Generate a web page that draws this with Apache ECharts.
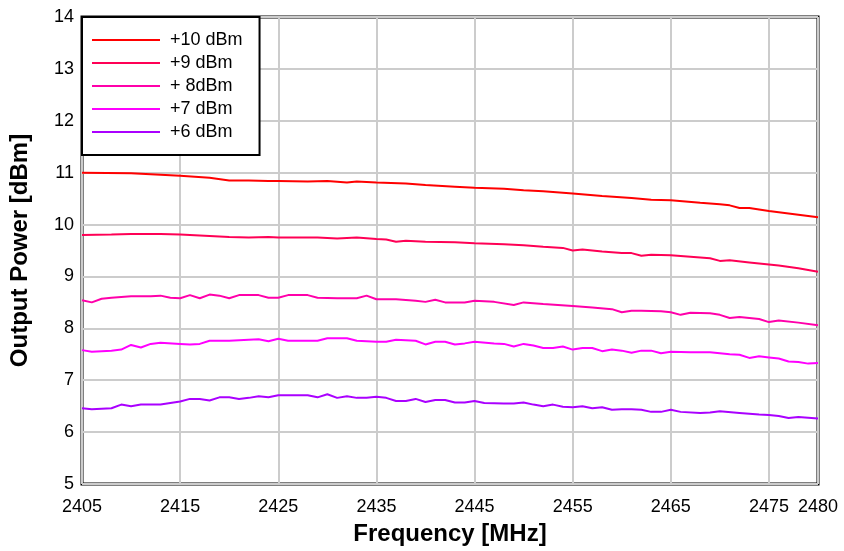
<!DOCTYPE html>
<html>
<head>
<meta charset="utf-8">
<script src="https://cdn.jsdelivr.net/npm/echarts@6/dist/echarts.min.js"></script>
<style>
  html, body { margin: 0; padding: 0; background: #fff; }
  #chart { width: 844px; height: 551px; }
</style>
</head>
<body>
<div id="chart"></div>
<script>
// output power vs frequency, [MHz, dBm]
const legendNames = ['+10 dBm', '+9 dBm', '+ 8dBm', '+7 dBm', '+6 dBm']
const lineColors = ['#ff0000', '#ff0055', '#ff00aa', '#ff00ff', '#aa00ff']

const p10 = [
  [2405, 11.0], [2410, 10.99], [2412, 10.97], [2415, 10.94], [2418, 10.9], [2420, 10.85],
  [2422, 10.85], [2424, 10.84], [2425, 10.84], [2428, 10.83], [2430, 10.84], [2432, 10.81],
  [2433, 10.83], [2435, 10.81], [2438, 10.79], [2440, 10.76], [2443, 10.73], [2445, 10.71],
  [2448, 10.69], [2450, 10.66], [2452, 10.64], [2455, 10.6], [2458, 10.55], [2461, 10.51],
  [2463, 10.48], [2465, 10.47], [2468, 10.42], [2470, 10.39], [2471, 10.37], [2472, 10.32],
  [2473, 10.32], [2475, 10.26], [2478, 10.19], [2480, 10.14]
]
const p9 = [
  [2405, 9.8], [2408, 9.81], [2410, 9.82], [2413, 9.82], [2415, 9.81], [2417, 9.79],
  [2420, 9.76], [2422, 9.75], [2424, 9.76], [2425, 9.75], [2427, 9.75], [2429, 9.75],
  [2431, 9.73], [2433, 9.75], [2435, 9.72], [2436, 9.71], [2437, 9.67], [2438, 9.69],
  [2440, 9.67], [2443, 9.66], [2445, 9.64], [2448, 9.62], [2450, 9.6], [2452, 9.57],
  [2454, 9.55], [2455, 9.5], [2456, 9.52], [2458, 9.48], [2460, 9.45], [2461, 9.45],
  [2462, 9.4], [2463, 9.42], [2465, 9.41], [2467, 9.38], [2469, 9.35], [2470, 9.3],
  [2471, 9.31], [2473, 9.27], [2475, 9.23], [2476, 9.21], [2478, 9.16], [2480, 9.09]
]
const p8 = [
  [2405, 8.54], [2406, 8.5], [2407, 8.57], [2408, 8.59], [2410, 8.62], [2412, 8.62],
  [2413, 8.63], [2414, 8.59], [2415, 8.58], [2416, 8.64], [2417, 8.58], [2418, 8.65],
  [2419, 8.63], [2420, 8.58], [2421, 8.64], [2423, 8.64], [2424, 8.59], [2425, 8.59],
  [2426, 8.64], [2428, 8.64], [2429, 8.59], [2431, 8.58], [2433, 8.58], [2434, 8.63],
  [2435, 8.56], [2437, 8.56], [2439, 8.53], [2440, 8.51], [2441, 8.55], [2442, 8.5],
  [2444, 8.5], [2445, 8.53], [2447, 8.51], [2449, 8.45], [2450, 8.5], [2452, 8.47],
  [2455, 8.43], [2457, 8.4], [2459, 8.37], [2460, 8.31], [2461, 8.34], [2462, 8.34],
  [2464, 8.33], [2465, 8.31], [2466, 8.26], [2467, 8.3], [2469, 8.29], [2470, 8.26],
  [2471, 8.2], [2472, 8.22], [2474, 8.18], [2475, 8.12], [2476, 8.15], [2478, 8.11],
  [2480, 8.06]
]
const p7 = [
  [2405, 7.58], [2406, 7.55], [2408, 7.57], [2409, 7.59], [2410, 7.68], [2411, 7.63],
  [2412, 7.7], [2413, 7.72], [2415, 7.7], [2416, 7.69], [2417, 7.7], [2418, 7.76],
  [2420, 7.76], [2422, 7.78], [2423, 7.79], [2424, 7.75], [2425, 7.8], [2426, 7.76],
  [2429, 7.76], [2430, 7.81], [2432, 7.81], [2433, 7.76], [2435, 7.74], [2436, 7.74],
  [2437, 7.78], [2439, 7.76], [2440, 7.69], [2441, 7.74], [2442, 7.74], [2443, 7.69],
  [2444, 7.71], [2445, 7.74], [2447, 7.71], [2448, 7.7], [2449, 7.65], [2450, 7.7],
  [2451, 7.67], [2452, 7.62], [2453, 7.62], [2454, 7.65], [2455, 7.59], [2456, 7.62],
  [2457, 7.62], [2458, 7.56], [2459, 7.59], [2460, 7.57], [2461, 7.53], [2462, 7.57],
  [2463, 7.57], [2464, 7.52], [2465, 7.55], [2467, 7.54], [2469, 7.54], [2471, 7.5],
  [2472, 7.49], [2473, 7.43], [2474, 7.46], [2475, 7.44], [2476, 7.42], [2477, 7.36],
  [2478, 7.35], [2479, 7.32], [2480, 7.33]
]
const p6 = [
  [2405, 6.46], [2406, 6.44], [2408, 6.46], [2409, 6.53], [2410, 6.5], [2411, 6.53],
  [2413, 6.53], [2414, 6.56], [2415, 6.59], [2416, 6.64], [2417, 6.64], [2418, 6.61],
  [2419, 6.67], [2420, 6.67], [2421, 6.64], [2422, 6.66], [2423, 6.69], [2424, 6.67],
  [2425, 6.71], [2427, 6.71], [2428, 6.71], [2429, 6.67], [2430, 6.73], [2431, 6.66],
  [2432, 6.69], [2433, 6.66], [2434, 6.66], [2435, 6.68], [2436, 6.66], [2437, 6.6],
  [2438, 6.6], [2439, 6.64], [2440, 6.58], [2441, 6.62], [2442, 6.62], [2443, 6.57],
  [2444, 6.57], [2445, 6.6], [2446, 6.56], [2448, 6.55], [2449, 6.55], [2450, 6.57],
  [2451, 6.53], [2452, 6.5], [2453, 6.53], [2454, 6.49], [2455, 6.48], [2456, 6.5],
  [2457, 6.46], [2458, 6.48], [2459, 6.43], [2460, 6.44], [2461, 6.44], [2462, 6.43],
  [2463, 6.39], [2464, 6.39], [2465, 6.43], [2466, 6.39], [2468, 6.37], [2469, 6.38],
  [2470, 6.4], [2472, 6.37], [2474, 6.34], [2475, 6.33], [2476, 6.31], [2477, 6.27],
  [2478, 6.29], [2480, 6.26]
]
const seriesData = [p10, p9, p8, p7, p6]

const font = "'Liberation Sans', Arial, sans-serif"

const chart = echarts.init(document.getElementById('chart'))

chart.setOption({
  animation: false,
  backgroundColor: '#fff',
  grid: {
    left: 82, right: 26, top: 17, bottom: 65,
    show: true, borderColor: '#000', borderWidth: 3
  },
  legend: {
    orient: 'vertical',
    left: 82, top: 17,
    padding: [14, 17, 14, 10],
    icon: 'rect',
    itemWidth: 68, itemHeight: 2, itemGap: 5,
    backgroundColor: '#fff',
    borderColor: '#000', borderWidth: 2,
    textStyle: { fontFamily: font, fontSize: 18, color: '#000', padding: [0, 0, 0, 5] },
    data: legendNames
  },
  xAxis: {
    type: 'value',
    min: 2405, max: 2480, interval: 10,
    name: 'Frequency [MHz]',
    nameLocation: 'middle', nameGap: 38,
    nameTextStyle: { fontFamily: font, fontSize: 24, fontWeight: 'bold', color: '#000' },
    axisLine: { show: false },
    axisTick: { show: false },
    axisLabel: {
      fontFamily: font, fontSize: 18, color: '#000', margin: 14,
      formatter: v => String(v)
    },
    splitLine: { show: true, lineStyle: { color: '#cccccc', width: 2 } }
  },
  yAxis: {
    type: 'value',
    min: 5, max: 14, interval: 1,
    name: 'Output Power [dBm]',
    nameLocation: 'middle', nameGap: 50,
    nameTextStyle: { fontFamily: font, fontSize: 24, fontWeight: 'bold', color: '#000' },
    axisLine: { show: false },
    axisTick: { show: false },
    axisLabel: { fontFamily: font, fontSize: 18, color: '#000', margin: 8 },
    splitLine: { show: true, lineStyle: { color: '#cccccc', width: 2 } }
  },
  series: seriesData.map((d, i) => ({
    name: legendNames[i],
    type: 'line',
    data: d,
    symbol: 'none',
    color: lineColors[i],
    lineStyle: { width: 2, color: lineColors[i] }
  }))
})
</script>
</body>
</html>
